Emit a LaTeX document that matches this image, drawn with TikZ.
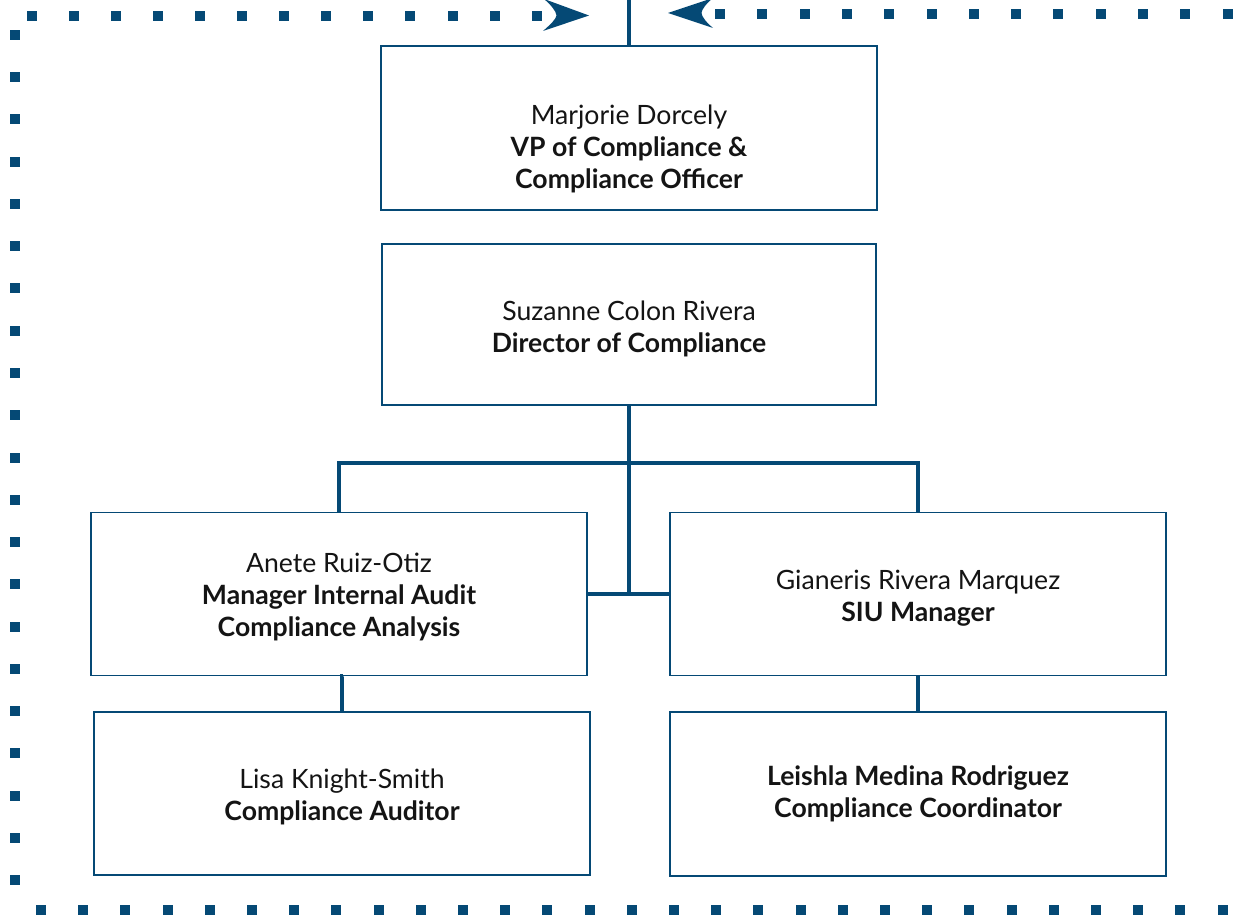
\documentclass[tikz,border=0pt]{standalone}
\usepackage{fontspec}
\setmainfont{Lato}
\usetikzlibrary{calc}
\definecolor{orgblue}{RGB}{5,73,117}
\definecolor{txt}{RGB}{20,20,20}
\tikzset{
  box/.style={draw=orgblue, line width=1.4pt, rectangle, inner sep=0pt,
    minimum width=496pt, minimum height=163pt, align=center, text=txt,
    font=\fontsize{26.6}{32}\selectfont},
  conn/.style={draw=orgblue, line width=4.6pt},
  sq/.style={fill=orgblue},
  tipfill/.style={fill=orgblue}
}
\begin{document}
\begin{tikzpicture}[x=1pt,y=-1pt]
\useasboundingbox (0,0) rectangle (1234,917);
% boxes
\node[box, minimum height=164pt] (vp) at (629,128) {\mbox{}\\[30pt]Marjorie Dorcely\\\textbf{VP of Compliance \&}\\\textbf{Compliance Officer}};
\node[box, minimum width=494pt, minimum height=161pt] (dir) at (629,324.5) {\mbox{}\\[-3pt]Suzanne Colon Rivera\\\textbf{Director of Compliance}};
\node[box] (mia) at (339,594) {\mbox{}\\[-7pt]Anete Ruiz-Otiz\\\textbf{Manager Internal Audit}\\\textbf{Compliance Analysis}};
\node[box] (siu) at (918,594) {\mbox{}\\[-5pt]Gianeris Rivera Marquez\\\textbf{SIU Manager}};
\node[box] (lisa) at (342,793.5) {\mbox{}\\[-5pt]Lisa Knight-Smith\\\textbf{Compliance Auditor}};
\node[box, minimum height=164pt] (lei) at (918,794) {\textbf{Leishla Medina Rodriguez}\\\textbf{Compliance Coordinator}};
% coordinates
\coordinate (topend) at (629,0);
\coordinate (bus) at (629,463);
\coordinate (junc) at (629,594);
% connectors
\draw[conn] (topend) -- (vp.north);
\draw[conn] (dir.south) -- (junc);
\draw[conn] (mia.north) |- (bus) -| (siu.north);
\draw[conn] (mia.east) -- (siu.west);
\draw[conn] ($(mia.south)+(4,0)$) -- (lisa.north |- mia.south) -- (lisa.north);
\draw[conn] (siu.south) -- (lei.north);
% dotted loop
\foreach \k in {0,...,12} \fill[sq] ({31.5+42.1*\k-5},11) rectangle ++(10,10);
\foreach \k in {0,...,12} \fill[sq] ({720+42.3*\k-5},9) rectangle ++(10,10);
\foreach \k in {0,...,20} \fill[sq] (10,{35+42.25*\k-5}) rectangle ++(10,10);
\foreach \k in {0,...,28} \fill[sq] ({41+42.2*\k-5},905) rectangle ++(10,10);
% arrowheads
\fill[tipfill] (589,15.5) -- (543,31) .. controls (551,24) and (556,19) .. (556.5,15.5) .. controls (556,11) and (551,5) .. (544,-1) -- cycle;
\fill[tipfill] (668,13) -- (713,-2) .. controls (706,4) and (702,9) .. (701.5,13) .. controls (702,17) and (706,22) .. (713,28) -- cycle;
\end{tikzpicture}
\end{document}
